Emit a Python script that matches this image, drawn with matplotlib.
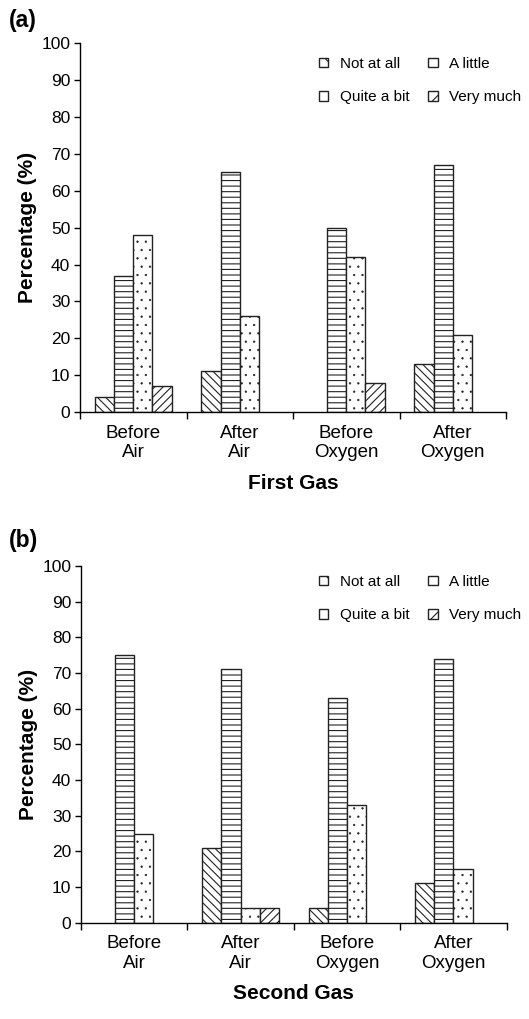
import matplotlib
matplotlib.use("Agg")
import matplotlib.pyplot as plt
import numpy as np
from matplotlib.patches import Patch

plt.rcParams['font.family'] = ['Liberation Sans', 'DejaVu Sans']
plt.rcParams['hatch.linewidth'] = 0.8

categories = ["Before\nAir", "After\nAir", "Before\nOxygen", "After\nOxygen"]
series_names = ["Not at all", "A little", "Quite a bit", "Very much"]

first_gas = {
    "Not at all": [4, 11, 0, 13],
    "A little": [37, 65, 50, 67],
    "Quite a bit": [48, 26, 42, 21],
    "Very much": [7, 0, 8, 0],
}
second_gas = {
    "Not at all": [0, 21, 4, 11],
    "A little": [75, 71, 63, 74],
    "Quite a bit": [25, 4, 33, 15],
    "Very much": [0, 4, 0, 0],
}
yticks = list(range(0, 101, 10))

hatches = {"Not at all": "\\\\\\\\", "A little": "---", "Quite a bit": "..", "Very much": "////"}
legend_hatches = {"Not at all": "\\\\", "A little": "-", "Quite a bit": "", "Very much": "//"}

W, H = 529, 1019
fig = plt.figure(figsize=(W / 100, H / 100), dpi=100)


def set_hlw(p, lw):
    try:
        p.set_hatch_linewidth(lw)
    except Exception:
        pass


def panel(rect, data, xlabel, tag, tag_xy, legend_xy):
    ax = fig.add_axes(rect)
    n = len(categories)
    x = np.arange(n) + 0.5
    bw = 0.18
    for i, name in enumerate(series_names):
        vals = data[name]
        offs = (i - 1.5) * bw
        for xi, v in zip(x, vals):
            if v <= 0:
                continue
            bars = ax.bar(xi + offs, v, width=bw, facecolor='white', edgecolor='#222222',
                          linewidth=1.0, hatch=hatches[name])
            if name == "Quite a bit":
                for b in bars:
                    set_hlw(b, 0.4)
    ax.set_xlim(0, n)
    ax.set_ylim(0, 100)
    ax.set_yticks(yticks)
    ax.set_xticks(np.arange(n + 1))
    ax.set_xticklabels([])
    ax.set_xticks(x, minor=True)
    ax.set_xticklabels(categories, minor=True, fontsize=13.5, linespacing=1.2)
    ax.tick_params(axis='x', which='minor', length=0, pad=9)
    ax.tick_params(axis='x', which='major', length=5, width=1, direction='out')
    ax.tick_params(axis='y', length=4, width=1, direction='out', labelsize=12.5, pad=3)
    for s in ['top', 'right']:
        ax.spines[s].set_visible(False)
    for s in ['left', 'bottom']:
        ax.spines[s].set_linewidth(1.0)
    ax.set_ylabel("Percentage (%)", fontsize=15, fontweight='bold', labelpad=3)
    ax.set_xlabel(xlabel, fontsize=15, fontweight='bold', labelpad=9)
    fig.text(tag_xy[0], tag_xy[1], tag, fontsize=16.5, fontweight='bold', ha='left', va='center')
    order = ["Not at all", "Quite a bit", "A little", "Very much"]
    handles = [Patch(facecolor='white', edgecolor='#222222', hatch=legend_hatches[k], linewidth=1.0)
               for k in order]
    ax.legend(handles, order, ncol=2, loc='upper left',
              bbox_to_anchor=legend_xy, bbox_transform=fig.transFigure,
              frameon=False, fontsize=11, handlelength=0.6, handleheight=0.6,
              handletextpad=0.75, columnspacing=1.25, labelspacing=1.25,
              borderpad=0, borderaxespad=0)
    return ax


panel([80 / W, 1 - 412 / H, 426 / W, 368.7 / H], first_gas, "First Gas", "(a)",
      (9 / W, 1 - 21 / H), (319 / W, 1 - 57 / H))
panel([81 / W, 1 - 922.7 / H, 425.7 / W, 356.7 / H], second_gas, "Second Gas", "(b)",
      (9 / W, 1 - 541 / H), (319 / W, 1 - 575 / H))

fig.savefig("out.png", dpi=100)
